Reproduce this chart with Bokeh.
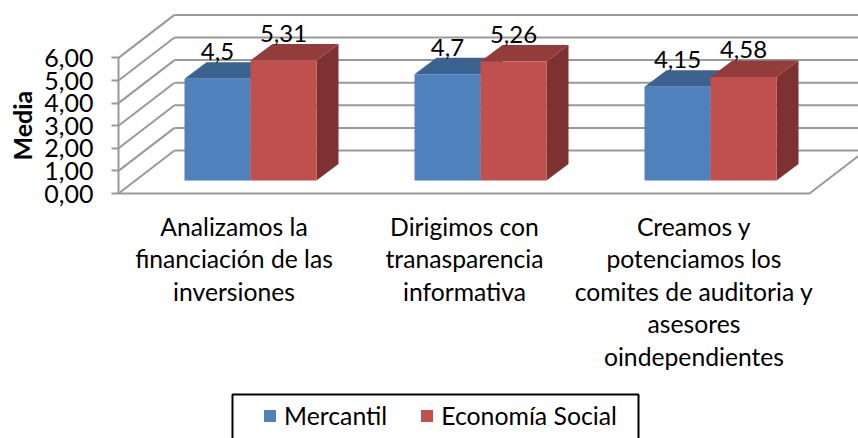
from math import pi
from bokeh.plotting import figure
from bokeh.models import Range1d, Legend, LegendItem, BoxAnnotation, FixedTicker, CustomJSTickFormatter, LinearAxis
from bokeh.core.properties import value
from bokeh.embed import file_html
from bokeh.resources import INLINE

categories = [
    ["Analizamos la", "financiación de las", "inversiones"],
    ["Dirigimos con", "tranasparencia", "informativa"],
    ["Creamos y", "potenciamos los", "comites de auditoria y", "asesores", "oindependientes"],
]
series_names = ["Mercantil", "Economía Social"]
mercantil = [4.5, 4.7, 4.15]
economia = [5.31, 5.26, 4.58]
mercantil_labels = ["4,5", "4,7", "4,15"]
economia_labels = ["5,31", "5,26", "4,58"]
y_ticks = [0, 1, 2, 3, 4, 5, 6]
y_title = "Media"

FONT = "Lato"
PX_X, PX_Y = 66.0, 22.6       # px per bar width, px per value unit
group_x = [1.0, 4.485, 7.97]
bar_dx, bar_dy = 22 / PX_X, 16.5 / PX_Y
wall_dx, wall_dy = 56 / PX_X, 43 / PX_Y
base = 13 / PX_Y
floor_end = 691 / PX_X
x_start = -118 / PX_X
x_end = 740 / PX_X
y_end = 193 / PX_Y
y_start = -245 / PX_Y
GRID = "#999999"

p = figure(width=858, height=438, output_backend="svg", toolbar_location=None,
           x_range=Range1d(x_start, x_end), y_range=Range1d(y_start, y_end),
           x_axis_location=None, y_axis_location=None,
           min_border_left=0, min_border_right=0, min_border_top=0, min_border_bottom=0,
           outline_line_color=None, background_fill_color="white")
p.grid.visible = False

yax = LinearAxis(fixed_location=0, ticker=FixedTicker(ticks=y_ticks), bounds=(0, 6))
yax.formatter = CustomJSTickFormatter(code="return tick.toFixed(2).replace('.', ',')")
yax.major_label_text_font = FONT
yax.major_label_text_font_size = "25px"
yax.major_label_text_color = "black"
yax.major_label_standoff = 18
yax.axis_line_color = GRID
yax.axis_line_width = 2
yax.major_tick_line_color = GRID
yax.major_tick_line_width = 2
yax.major_tick_out = 7
yax.major_tick_in = 0
yax.minor_tick_line_color = None
p.add_layout(yax, "left")

p.text([(21 - 118) / PX_X], [3], text=[y_title], angle=pi / 2, text_font=value(FONT),
       text_font_style="bold", text_font_size="25px", text_color="black",
       text_align="center", text_baseline="middle")

# Walls and floor
for v in y_ticks:
    p.line([0, wall_dx], [v, v + wall_dy], line_color=GRID, line_width=2)
    p.line([wall_dx, x_end], [v + wall_dy, v + wall_dy], line_color=GRID, line_width=2)
p.line([0, floor_end, floor_end + wall_dx], [0, 0, wall_dy], line_color=GRID, line_width=2)

# Bars
styles = [("#4f81bd", "#3c6290", "#335379"), ("#c0504d", "#923d3b", "#7d3231")]
fronts = []
for i, (vals, (front, top, side)) in enumerate(zip([mercantil, economia], styles)):
    l = [g + i for g in group_x]
    r = [x + 1 for x in l]
    tops = [v + base for v in vals]
    p.patches([[a, a + bar_dx, b + bar_dx, b] for a, b in zip(l, r)],
              [[t, t + bar_dy, t + bar_dy, t] for t in tops], fill_color=top, line_color=None)
    p.patches([[b, b + bar_dx, b + bar_dx, b] for b in r],
              [[base, base + bar_dy, t + bar_dy, t] for t in tops], fill_color=side, line_color=None)
    fronts.append(p.quad(left=l, right=r, bottom=base, top=tops, fill_color=front, line_color=None))

# Value labels
for i, (vals, labs) in enumerate(zip([mercantil, economia], [mercantil_labels, economia_labels])):
    p.text([g + i + 0.5 for g in group_x], [v + base + bar_dy for v in vals], text=labs,
           text_font=value(FONT), text_font_size="24px", text_color="black",
           text_align="center", text_baseline="bottom", y_offset=-2)

# Category labels, one line at a time
label_x = [(233.5 - 118) / PX_X, (464 - 118) / PX_X, (693.5 - 118) / PX_X]
for cx, lines in zip(label_x, categories):
    p.text([cx] * len(lines), [-(33 + 32.4 * n) / PX_Y for n in range(len(lines))], text=lines,
           text_font=value(FONT), text_font_size="24.7px", text_color="black",
           text_align="center", text_baseline="middle")

# Legend
p.add_layout(BoxAnnotation(left=114 / PX_X, right=520 / PX_X, top=-201 / PX_Y, bottom=-260 / PX_Y,
                           fill_color=None, line_color="black", line_width=2, line_alpha=1))
legend = Legend(items=[LegendItem(label=n, renderers=[r]) for n, r in zip(series_names, fronts)],
                orientation="horizontal", location=(262, 8), padding=4, margin=0, spacing=32,
                glyph_width=15, glyph_height=15, label_standoff=7,
                label_text_font=FONT, label_text_font_size="24.8px", label_text_color="black",
                border_line_color=None, background_fill_color=None)
p.add_layout(legend, "center")

open("out.html", "w").write(file_html(p, INLINE))
